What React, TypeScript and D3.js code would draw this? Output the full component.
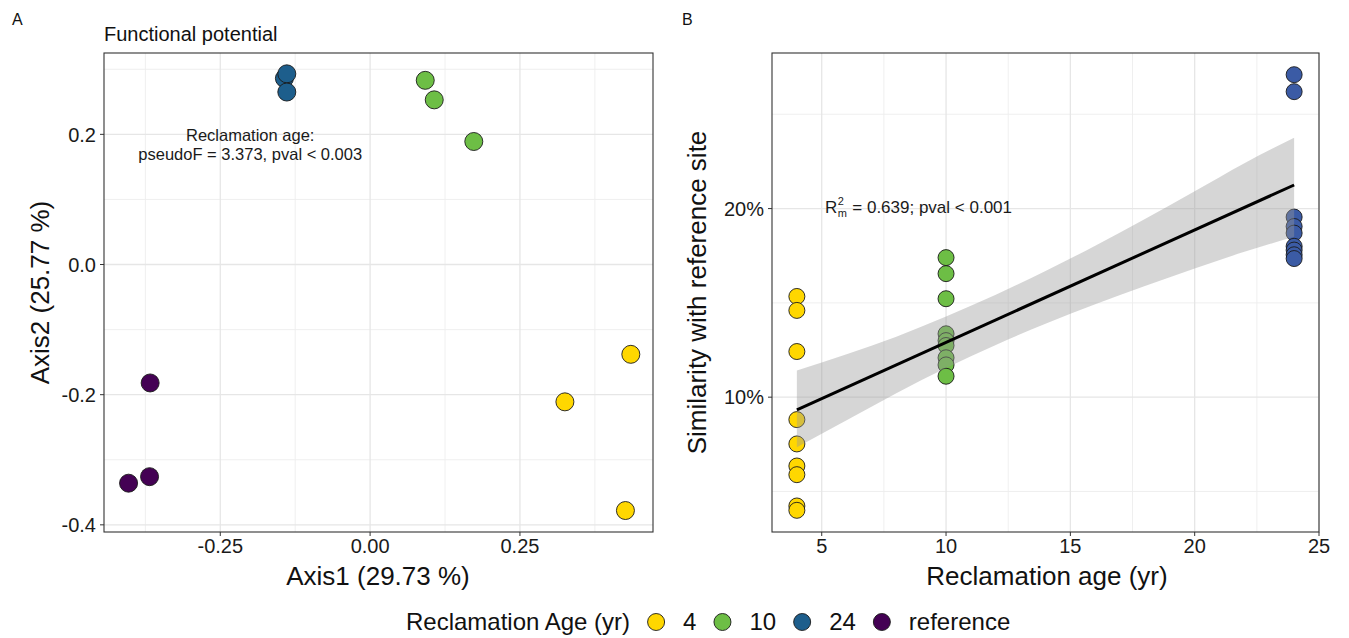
import React, { useRef, useEffect } from "react";
import * as d3 from "d3";

// colour levels shared by both panels and the legend
const ageLevels = ["4", "10", "24", "reference"];
const ageColours = ["#FFD700", "#6DBE45", "#1D5E8C", "#440154"];
const simColours: Record<string, string> = { "4": "#FFD700", "10": "#6DBE45", "24": "#3B5BA5" };

// A: PCoA of functional potential
const pcoaGroup = ["24", "24", "24", "10", "10", "10", "4", "4", "4", "reference", "reference", "reference"];
const pcoaAxis1 = [-0.143, -0.139, -0.139, 0.092, 0.107, 0.173, 0.435, 0.325, 0.426, -0.367, -0.368, -0.403];
const pcoaAxis2 = [0.286, 0.293, 0.265, 0.283, 0.253, 0.189, -0.138, -0.211, -0.378, -0.182, -0.326, -0.336];

// B: similarity with reference site (%)
const simAge = [4, 4, 4, 4, 4, 4, 4, 4, 4, 10, 10, 10, 10, 10, 10, 10, 10, 10, 24, 24, 24, 24, 24, 24, 24, 24, 24];
const simValue = [
  15.34, 14.6, 12.42, 8.81, 7.52, 6.35, 5.89, 4.23, 4.0,
  17.4, 16.55, 15.22, 13.36, 13.0, 12.74, 12.09, 11.71, 11.11,
  27.1, 26.2, 19.55, 19.05, 18.7, 18.0, 17.8, 17.55, 17.35,
];

// fitted line and its confidence ribbon
const fitAge = [4, 24];
const fitValue = [9.33, 21.25];
const bandAge = [4, 6, 8, 10, 12, 14, 16, 18, 20, 22, 24];
const bandLower = [7.35, 8.77, 10.21, 11.54, 12.77, 13.89, 14.93, 15.89, 16.82, 17.71, 18.5];
const bandUpper = [11.42, 12.27, 13.21, 14.28, 15.43, 16.69, 18.03, 19.45, 20.92, 22.41, 23.75];

// ticks
const aXTicks = [-0.25, 0, 0.25];
const aXMinor = [-0.375, -0.125, 0.125, 0.375];
const aYTicks = [-0.4, -0.2, 0, 0.2];
const aYMinor = [-0.3, -0.1, 0.1, 0.3];
const bXTicks = [5, 10, 15, 20, 25];
const bXMinor = [7.5, 12.5, 17.5, 22.5];
const bYTicks = [10, 20];
const bYMinor = [5, 15, 25];

const FONT = "'Liberation Sans', Arial, Helvetica, sans-serif";
const TICK_SIZE = 20;
const TITLE_SIZE = 26;

function drawPanel(svg: any, o: any) {
  const x = d3.scaleLinear().domain(o.xDomain).range([o.left, o.right]);
  const y = d3.scaleLinear().domain(o.yDomain).range([o.bottom, o.top]);
  const g = svg.append("g");

  // grid
  const grid = (data: number[], vertical: boolean, width: number, colour: string) =>
    g.append("g").selectAll("line").data(data).join("line")
      .attr("x1", (d: number) => (vertical ? x(d) : o.left))
      .attr("x2", (d: number) => (vertical ? x(d) : o.right))
      .attr("y1", (d: number) => (vertical ? o.top : y(d)))
      .attr("y2", (d: number) => (vertical ? o.bottom : y(d)))
      .attr("stroke", colour).attr("stroke-width", width);
  grid(o.xMinor, true, 0.9, "#EDEDED");
  grid(o.yMinor, false, 0.9, "#EDEDED");
  grid(o.xMajor, true, 1.3, "#E6E6E6");
  grid(o.yMajor, false, 1.3, "#E6E6E6");

  // ticks + labels
  g.append("g").selectAll("line").data(o.xMajor).join("line")
    .attr("x1", (d: number) => x(d)).attr("x2", (d: number) => x(d))
    .attr("y1", o.bottom).attr("y2", o.bottom + 4)
    .attr("stroke", "#333").attr("stroke-width", 1);
  g.append("g").selectAll("text").data(o.xMajor).join("text")
    .attr("x", (d: number) => x(d)).attr("y", o.bottom + 21)
    .attr("text-anchor", "middle").attr("font-family", FONT).attr("font-size", TICK_SIZE)
    .attr("fill", "#1a1a1a").text(o.fx);
  g.append("g").selectAll("line").data(o.yMajor).join("line")
    .attr("y1", (d: number) => y(d)).attr("y2", (d: number) => y(d))
    .attr("x1", o.left - 4).attr("x2", o.left)
    .attr("stroke", "#333").attr("stroke-width", 1);
  g.append("g").selectAll("text").data(o.yMajor).join("text")
    .attr("x", o.left - 8).attr("y", (d: number) => y(d)).attr("dy", "0.36em")
    .attr("text-anchor", "end").attr("font-family", FONT).attr("font-size", TICK_SIZE)
    .attr("fill", "#1a1a1a").text(o.fy);

  // axis titles
  g.append("text")
    .attr("x", o.xTitleX).attr("y", o.bottom + 53)
    .attr("text-anchor", "middle").attr("font-family", FONT).attr("font-size", TITLE_SIZE)
    .attr("fill", "#111").text(o.xTitle);
  g.append("text")
    .attr("transform", `translate(${o.yTitleX},${(o.top + o.bottom) / 2}) rotate(-90)`)
    .attr("text-anchor", "middle").attr("font-family", FONT).attr("font-size", TITLE_SIZE)
    .attr("fill", "#111").text(o.yTitle);

  return { g, x, y };
}

function drawFrame(g: any, o: any) {
  g.append("rect")
    .attr("x", o.left).attr("y", o.top)
    .attr("width", o.right - o.left).attr("height", o.bottom - o.top)
    .attr("fill", "none").attr("stroke", "#333").attr("stroke-width", 1.1);
}

const App = () => {
  const svgRef = useRef<SVGSVGElement>(null);

  useEffect(() => {
    const svg = d3.select(svgRef.current);
    svg.selectAll("*").remove();

    svg.append("rect").attr("width", 1349).attr("height", 638).attr("fill", "#fff");

    // ---------- panel A ----------
    const oA = {
      left: 104, right: 653, top: 53, bottom: 532,
      xDomain: [-0.444, 0.472], yDomain: [-0.411, 0.325],
      xMajor: aXTicks, xMinor: aXMinor, yMajor: aYTicks, yMinor: aYMinor,
      fx: (d: number) => d.toFixed(2), fy: (d: number) => d.toFixed(1),
      xTitle: "Axis1 (29.73 %)", xTitleX: 378, yTitle: "Axis2 (25.77 %)", yTitleX: 49,
    };
    const A = drawPanel(svg, oA);
    const colA = d3.scaleOrdinal<string, string>().domain(ageLevels).range(ageColours);

    A.g.append("g").selectAll("circle").data(pcoaAxis1.map((v, i) => i)).join("circle")
      .attr("cx", (i: number) => A.x(pcoaAxis1[i]))
      .attr("cy", (i: number) => A.y(pcoaAxis2[i]))
      .attr("r", 9)
      .attr("fill", (i: number) => colA(pcoaGroup[i]))
      .attr("stroke", "#1a1a1a").attr("stroke-width", 0.9);

    const ann = A.g.append("text").attr("font-family", FONT).attr("font-size", 16.5)
      .attr("text-anchor", "middle").attr("fill", "#1a1a1a");
    ann.append("tspan").attr("x", A.x(-0.2)).attr("y", 141).text("Reclamation age:");
    ann.append("tspan").attr("x", A.x(-0.2)).attr("y", 159.5).text("pseudoF = 3.373, pval < 0.003");
    drawFrame(A.g, oA);

    svg.append("text").attr("x", 104).attr("y", 41).attr("font-family", FONT)
      .attr("font-size", 20).attr("fill", "#111").text("Functional potential");
    svg.append("text").attr("x", 12).attr("y", 25).attr("font-family", FONT)
      .attr("font-size", 16).attr("fill", "#111").text("A");
    svg.append("text").attr("x", 682).attr("y", 25).attr("font-family", FONT)
      .attr("font-size", 16).attr("fill", "#111").text("B");

    // ---------- panel B ----------
    const oB = {
      left: 772, right: 1319, top: 53, bottom: 532,
      xDomain: [3, 25], yDomain: [2.85, 28.25],
      xMajor: bXTicks, xMinor: bXMinor, yMajor: bYTicks, yMinor: bYMinor,
      fx: (d: number) => String(d), fy: (d: number) => `${d}%`,
      xTitle: "Reclamation age (yr)", xTitleX: 1047, yTitle: "Similarity with reference site", yTitleX: 706,
    };
    const B = drawPanel(svg, oB);

    B.g.append("g").selectAll("circle").data(simValue.map((v, i) => i)).join("circle")
      .attr("cx", (i: number) => B.x(simAge[i]))
      .attr("cy", (i: number) => B.y(simValue[i]))
      .attr("r", 8)
      .attr("fill", (i: number) => simColours[String(simAge[i])])
      .attr("stroke", "#1a1a1a").attr("stroke-width", 0.9);

    const area = d3.area<number>()
      .x((i) => B.x(bandAge[i]))
      .y0((i) => B.y(bandLower[i]))
      .y1((i) => B.y(bandUpper[i]))
      .curve(d3.curveMonotoneX);
    B.g.append("path").datum(bandAge.map((v, i) => i))
      .attr("d", area).attr("fill", "#999999").attr("opacity", 0.4);

    const line = d3.line<number>().x((i) => B.x(fitAge[i])).y((i) => B.y(fitValue[i]));
    B.g.append("path").datum(fitAge.map((v, i) => i))
      .attr("d", line).attr("fill", "none").attr("stroke", "#000").attr("stroke-width", 3);

    const annX = 825;
    const annY = 213;
    const annB = B.g.append("g").attr("font-family", FONT).attr("fill", "#1a1a1a");
    const rText = annB.append("text").attr("x", annX).attr("y", annY).attr("font-size", 17).text("R");
    const rW = (rText.node() as SVGTextElement).getComputedTextLength();
    annB.append("text").attr("x", annX + rW + 0.5).attr("y", annY - 8).attr("font-size", 11).text("2");
    annB.append("text").attr("x", annX + rW + 0.5).attr("y", annY + 4).attr("font-size", 11).text("m");
    annB.append("text").attr("x", annX + rW + 15).attr("y", annY).attr("font-size", 17)
      .text("= 0.639; pval < 0.001");
    drawFrame(B.g, oB);

    // ---------- legend ----------
    const ly = 622;
    const leg = svg.append("g").attr("font-family", FONT).attr("font-size", 24).attr("fill", "#111");
    const title = leg.append("text").attr("x", 406).attr("y", ly).attr("dy", "0.35em").text("Reclamation Age (yr)");
    let cursor = 406 + (title.node() as SVGTextElement).getComputedTextLength();
    ageLevels.forEach((lvl, i) => {
      const cx = cursor + 26;
      leg.append("circle").attr("cx", cx).attr("cy", ly).attr("r", 8.5)
        .attr("fill", ageColours[i]).attr("stroke", "#1a1a1a").attr("stroke-width", 0.9);
      const t = leg.append("text").attr("x", cx + 27).attr("y", ly).attr("dy", "0.35em").text(lvl);
      cursor = cx + 27 + (t.node() as SVGTextElement).getComputedTextLength();
    });
  }, []);

  return (
    <svg ref={svgRef} width={1349} height={638}
      style={{ position: "absolute", left: 0, top: 0, display: "block" }} />
  );
};

export default App;
